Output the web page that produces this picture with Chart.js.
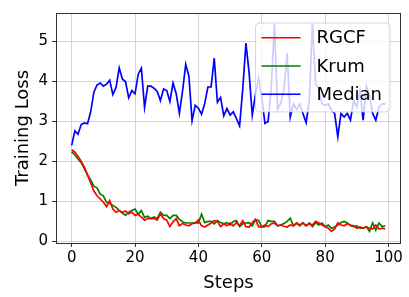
<!DOCTYPE html>
<html>
<head>
<meta charset="utf-8">
<script src="https://cdn.jsdelivr.net/npm/chart.js@4"></script>
<style>
  html, body { margin: 0; padding: 0; background: #fff; }
  #wrap { width: 409px; height: 297px; }
</style>
</head>
<body>
<div id="wrap"><canvas id="lossChart" width="409" height="297"></canvas></div>
<script>
// Training loss per step
const seriesNames = ['RGCF', 'Krum', 'Median'];
const seriesColors = ['#ff0000', '#008000', '#0000ff'];

const rgcf = [
  2.29, 2.23, 2.13, 2.00, 1.86, 1.66, 1.46, 1.26, 1.14, 1.06,
  0.98, 0.87, 1.02, 0.81, 0.73, 0.77, 0.73, 0.76, 0.69, 0.73,
  0.65, 0.68, 0.61, 0.53, 0.57, 0.57, 0.57, 0.53, 0.69, 0.57,
  0.53, 0.37, 0.49, 0.57, 0.39, 0.45, 0.41, 0.39, 0.44, 0.46,
  0.54, 0.39, 0.36, 0.41, 0.46, 0.52, 0.50, 0.37, 0.44, 0.39,
  0.46, 0.39, 0.47, 0.39, 0.52, 0.37, 0.36, 0.47, 0.55, 0.37,
  0.36, 0.41, 0.37, 0.44, 0.46, 0.39, 0.41, 0.38, 0.36, 0.41,
  0.39, 0.46, 0.41, 0.46, 0.39, 0.44, 0.41, 0.50, 0.46, 0.41,
  0.37, 0.33, 0.25, 0.31, 0.46, 0.41, 0.39, 0.44, 0.41, 0.39,
  0.33, 0.36, 0.33, 0.36, 0.33, 0.31, 0.41, 0.31, 0.33, 0.31
];

const krum = [
  2.24, 2.16, 2.06, 1.97, 1.82, 1.66, 1.54, 1.38, 1.34, 1.18,
  1.14, 0.98, 0.95, 0.90, 0.85, 0.77, 0.71, 0.65, 0.73, 0.77,
  0.81, 0.68, 0.77, 0.60, 0.63, 0.57, 0.61, 0.57, 0.73, 0.65,
  0.65, 0.57, 0.65, 0.65, 0.55, 0.49, 0.46, 0.46, 0.46, 0.47,
  0.46, 0.68, 0.47, 0.50, 0.50, 0.44, 0.52, 0.47, 0.44, 0.47,
  0.41, 0.50, 0.52, 0.37, 0.44, 0.46, 0.47, 0.39, 0.54, 0.52,
  0.36, 0.37, 0.52, 0.50, 0.50, 0.39, 0.41, 0.45, 0.50, 0.58,
  0.39, 0.46, 0.39, 0.47, 0.39, 0.46, 0.37, 0.47, 0.41, 0.46,
  0.37, 0.41, 0.33, 0.36, 0.41, 0.47, 0.50, 0.46, 0.39, 0.37,
  0.39, 0.33, 0.33, 0.37, 0.25, 0.46, 0.28, 0.46, 0.37, 0.39
];

const median = [
  2.40, 2.76, 2.68, 2.92, 2.96, 2.94, 3.24, 3.73, 3.91, 3.96,
  3.88, 3.93, 4.03, 3.67, 3.85, 4.34, 4.06, 3.99, 3.59, 3.77,
  3.69, 4.18, 4.33, 3.35, 3.88, 3.88, 3.83, 3.75, 3.52, 3.81,
  3.77, 3.50, 3.96, 3.69, 3.20, 3.76, 4.43, 4.13, 3.02, 3.40,
  3.33, 3.18, 3.45, 3.86, 3.86, 4.58, 3.48, 3.60, 3.14, 3.32,
  3.16, 3.24, 3.07, 2.89, 3.81, 4.96, 4.22, 3.16, 3.67, 4.08,
  3.60, 2.95, 3.00, 3.85, 5.45, 3.30, 3.46, 3.79, 4.71, 3.11,
  3.44, 3.30, 3.44, 3.20, 2.97, 3.50, 5.45, 3.93, 3.81, 3.44,
  3.40, 3.44, 3.28, 3.20, 2.62, 3.20, 3.11, 3.20, 3.03, 3.52,
  3.36, 3.77, 3.03, 3.89, 3.65, 3.20, 3.03, 3.36, 3.44, 3.44
];

const steps = rgcf.map((_, i) => i);
const xTicks = [0, 20, 40, 60, 80, 100];
const yTicks = [0, 1, 2, 3, 4, 5];

const FONT = 'DejaVu Sans';

// Legenda semi-transparente e contorno completo (estilo matplotlib)
const framePlugin = {
  id: 'frame',
  afterDatasetsDraw(chart) {
    const { ctx, chartArea: a } = chart;
    ctx.save();
    ctx.font = '18px "' + FONT + '"';
    const lineLen = 39, gap = 16, padX = 6, rowH = 28.3;
    const names = chart.data.datasets.map(d => d.label);
    const textW = Math.max(...names.map(n => ctx.measureText(n).width));
    const w = padX + lineLen + gap + textW + 8;
    const h = rowH * names.length + 4;
    const x0 = a.right - 11 - w;
    const y0 = a.top + 10;
    ctx.beginPath();
    ctx.roundRect(x0, y0, w, h, 4);
    ctx.fillStyle = 'rgba(255,255,255,0.8)';
    ctx.fill();
    ctx.strokeStyle = 'rgba(204,204,204,0.8)';
    ctx.lineWidth = 1;
    ctx.stroke();
    chart.data.datasets.forEach((d, i) => {
      const yy = y0 + 14.7 + i * rowH;
      ctx.beginPath();
      ctx.moveTo(x0 + padX, yy);
      ctx.lineTo(x0 + padX + lineLen, yy);
      ctx.strokeStyle = d.borderColor;
      ctx.lineWidth = 1.6;
      ctx.stroke();
      ctx.fillStyle = '#000';
      ctx.textBaseline = 'middle';
      ctx.fillText(d.label, x0 + padX + lineLen + gap, yy + 1);
    });
    ctx.restore();
  },
  afterDraw(chart) {
    const { ctx, chartArea: a } = chart;
    ctx.save();
    ctx.strokeStyle = '#333';
    ctx.lineWidth = 1;
    ctx.strokeRect(Math.round(a.left) + 0.5, Math.round(a.top) + 0.5,
      Math.round(a.right - a.left) - 1, Math.round(a.bottom - a.top));
    ctx.restore();
  }
};

const allSeries = [rgcf, krum, median];

const lossChart = new Chart(document.getElementById('lossChart').getContext('2d'), {
  type: 'line',
  data: {
    datasets: allSeries.map((vals, k) => ({
      label: seriesNames[k],
      data: vals.map((v, i) => ({ x: steps[i], y: v })),
      borderColor: seriesColors[k],
      backgroundColor: seriesColors[k],
      borderWidth: 1.7,
      pointRadius: 0,
      tension: 0,
      fill: false
    }))
  },
  options: {
    responsive: false,
    animation: false,
    layout: { padding: { left: 0, right: 8, top: 8, bottom: 0 } },
    plugins: {
      legend: { display: false },
      tooltip: { enabled: false }
    },
    scales: {
      x: {
        type: 'linear',
        min: -4.95,
        max: 103.95,
        afterBuildTicks: s => { s.ticks = xTicks.map(v => ({ value: v })); },
        afterFit: s => { s.height = 54; },
        ticks: {
          color: '#000',
          font: { family: FONT, size: 15 },
          padding: 2,
          maxRotation: 0,
          callback: v => String(v)
        },
        grid: { color: '#d3d3d3', tickColor: '#333', tickLength: 4, lineWidth: 1 },
        border: { display: false },
        title: {
          display: true,
          text: 'Steps',
          color: '#000',
          font: { family: FONT, size: 18 },
          padding: { top: 0, bottom: 3 }
        }
      },
      y: {
        min: -0.04,
        max: 5.71,
        afterBuildTicks: s => { s.ticks = yTicks.map(v => ({ value: v })); },
        afterFit: s => { s.width = 56; },
        ticks: {
          color: '#000',
          font: { family: FONT, size: 15 },
          padding: 4,
          callback: v => String(v)
        },
        grid: { color: '#d3d3d3', tickColor: '#333', tickLength: 4, lineWidth: 1 },
        border: { display: false },
        title: {
          display: true,
          text: 'Training Loss',
          color: '#000',
          font: { family: FONT, size: 18 },
          padding: { top: 13, bottom: 0 }
        }
      }
    }
  },
  plugins: [framePlugin]
});
</script>
</body>
</html>
